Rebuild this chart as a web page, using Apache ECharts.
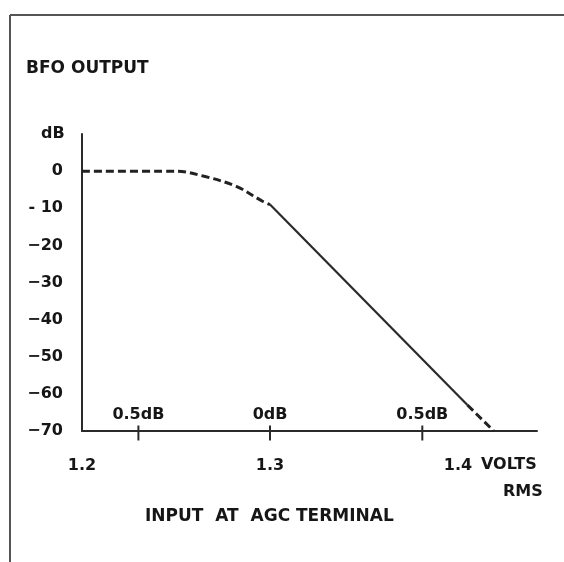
<!DOCTYPE html>
<html>
<head>
<meta charset="utf-8">
<script src="https://cdn.jsdelivr.net/npm/echarts@6/dist/echarts.min.js"></script>
<style>
  html, body { margin: 0; padding: 0; background: #fff; }
  #chart { width: 564px; height: 562px; }
</style>
</head>
<body>
<div id="chart"></div>
<script>
// ---- data ----
const curveVolts = [1.2, 1.25, 1.265, 1.282, 1.296, 1.3];
const curveDb    = [0, 0, -1.4, -4.1, -8.1, -9];
const slopeVolts = [1.3, 1.405];
const slopeDb    = [-9, -63];
const tailVolts  = [1.405, 1.419];
const tailDb     = [-63, -70];
const refVolts   = [1.23, 1.3, 1.381];
const refLabels  = ['0.5dB', '0dB', '0.5dB'];
const xTickValues = [1.2, 1.3, 1.4];
const xTickLabels = ['1.2', '1.3', '1.4'];
const yTickValues = [-70, -60, -50, -40, -30, -20, -10, 0];
const yTickLabels = ['\u221270', '\u221260', '\u221250', '\u221240', '\u221230', '\u221220', '- 10', '0'];

const FONT = '"DejaVu Sans"';
const INK = '#161616';

function pairs(xs, ys) { return xs.map((x, i) => [x, ys[i]]); }

const chart = echarts.init(document.getElementById('chart'), null, { renderer: 'canvas' });
chart.setOption({
  backgroundColor: '#fff',
  animation: false,
  grid: { left: 82, right: 27, top: 134, bottom: 131 },
  xAxis: {
    type: 'value', min: 1.2, max: 1.442, interval: 0.1,
    axisLine: { onZero: false, lineStyle: { color: '#2a2a2a', width: 2 } },
    axisTick: { show: false },
    splitLine: { show: false },
    axisLabel: {
      margin: 27, fontFamily: FONT, fontWeight: 'bold', fontSize: 16, color: INK,
      showMaxLabel: false,
      formatter: v => { const i = xTickValues.findIndex(t => Math.abs(t - v) < 1e-6); return i >= 0 ? xTickLabels[i] : ''; }
    }
  },
  yAxis: {
    type: 'value', min: -70, max: 10, interval: 10,
    axisLine: { show: true, onZero: false, lineStyle: { color: '#2a2a2a', width: 2 } },
    axisTick: { show: false },
    splitLine: { show: false },
    axisLabel: {
      margin: 19, fontFamily: FONT, fontWeight: 'bold', fontSize: 16, color: INK,
      showMaxLabel: false, padding: [4, 0, 0, 0],
      formatter: v => { const i = yTickValues.indexOf(Math.round(v)); return i >= 0 ? yTickLabels[i] : ''; }
    }
  },
  series: [
    { type: 'line', data: pairs(curveVolts, curveDb), smooth: 0.35, showSymbol: false,
      lineStyle: { color: '#222', width: 3, type: [8, 4] } },
    { type: 'line', data: pairs(slopeVolts, slopeDb), showSymbol: false,
      lineStyle: { color: '#2a2a2a', width: 2.2 } },
    { type: 'line', data: pairs(tailVolts, tailDb), showSymbol: false,
      lineStyle: { color: '#222', width: 3, type: [8, 4] } },
    { type: 'scatter', data: refVolts.map((v, i) => ({ value: [v, -70], name: refLabels[i] })),
      symbol: 'rect', symbolSize: [2, 15], symbolOffset: [0, 2],
      itemStyle: { color: '#2a2a2a', opacity: 1 },
      label: { show: true, position: 'top', distance: 3, formatter: p => p.name,
        fontFamily: FONT, fontWeight: 'bold', fontSize: 16, color: INK } }
  ],
  graphic: [
    { type: 'line', shape: { x1: 10, y1: 15, x2: 564, y2: 15 }, style: { stroke: '#555', lineWidth: 2 } },
    { type: 'line', shape: { x1: 10, y1: 15, x2: 10, y2: 562 }, style: { stroke: '#555', lineWidth: 2 } },
    { type: 'text', left: 26, top: 60, style: { text: 'BFO OUTPUT', font: 'bold 17px ' + FONT, fill: INK } },
    { type: 'text', left: 41, top: 126, style: { text: 'dB', font: 'bold 16px ' + FONT, fill: INK } },
    { type: 'text', left: 481, top: 457, style: { text: 'VOLTS', font: 'bold 16px ' + FONT, fill: INK } },
    { type: 'text', left: 503, top: 484, style: { text: 'RMS', font: 'bold 16px ' + FONT, fill: INK } },
    { type: 'text', left: 145, top: 508, style: { text: 'INPUT  AT  AGC TERMINAL', font: 'bold 17px ' + FONT, fill: INK } }
  ]
});
</script>
</body>
</html>
